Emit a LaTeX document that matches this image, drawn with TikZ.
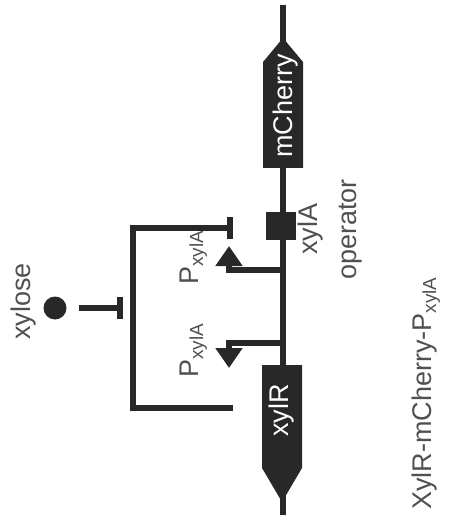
\documentclass[tikz,border=0pt]{standalone}
\usepackage{fontspec}
\setmainfont{Liberation Sans}
\usetikzlibrary{arrows.meta, calc}
\definecolor{genefill}{RGB}{40,40,40}
\definecolor{labelgray}{RGB}{80,80,80}

\begin{document}
\begin{tikzpicture}[x=1pt, y=-1pt,
  dna/.style={line width=6pt, genefill},
  repress/.style={line width=6pt, genefill, -{Bar[width=22pt]}},
  promoter/.style={line width=6pt, genefill, -{Triangle[length=20pt, width=26pt]}},
  lbl/.style={rotate=90, anchor=base west, inner sep=0pt, text=labelgray, font=\fontsize{27}{30}\selectfont},
  genetext/.style={lbl, text=white}]
  \useasboundingbox (0,0) rectangle (450,529);

  % DNA backbone
  \coordinate (top) at (283,5);
  \coordinate (bottom) at (283,515);
  \draw[dna] (top) -- (bottom);

  % gene arrows
  \fill[genefill] (263,168) -- (263,62) -- (283,38) -- (303,62) -- (303,168) -- cycle;
  \fill[genefill] (262,365) -- (302,365) -- (302,468) -- (282,502) -- (262,468) -- cycle;
  \node[genetext] (mch) at (292,158) {mCherry};
  \node[genetext] (xylr) at (288,437) {xylR};

  % operator box
  \node[fill=genefill, minimum width=30pt, minimum height=28pt, inner sep=0pt] (op) at (281,226) {};
  \node[lbl] (opname) at (317,255) {xylA};
  \node[lbl] (optext) at (356,280) {operator};

  % the two promoters
  \coordinate (pA) at (283,270);
  \coordinate (pAtip) at (229,246);
  \coordinate (pR) at (283,343);
  \coordinate (pRtip) at (229,368);
  \draw[promoter] (pA) -| (pAtip);
  \draw[promoter] (pR) -| (pRtip);
  \node[lbl] (pAlabel) at (198,285) {P\textsubscript{xylA}};
  \node[lbl] (pRlabel) at (198,378) {P\textsubscript{xylA}};

  % XylR feedback onto the operator
  \coordinate (fbFrom) at (233,408);
  \coordinate (fbSide) at (133,318);
  \coordinate (fbTo) at (233,228);
  \draw[repress] (fbFrom) -| (fbSide) |- (fbTo);

  % xylose relieves the repression
  \node[circle, fill=genefill, minimum size=23pt, inner sep=0pt] (xylose) at (55,308) {};
  \coordinate (xylHit) at (123,308);
  \draw[repress, shorten <=12pt] (xylose) -- (xylHit);
  \node[lbl] (xylname) at (30,340) {xylose};

  % construct name
  \node[lbl] (construct) at (431,510) {XylR-mCherry-P\textsubscript{xylA}};
\end{tikzpicture}
\end{document}
